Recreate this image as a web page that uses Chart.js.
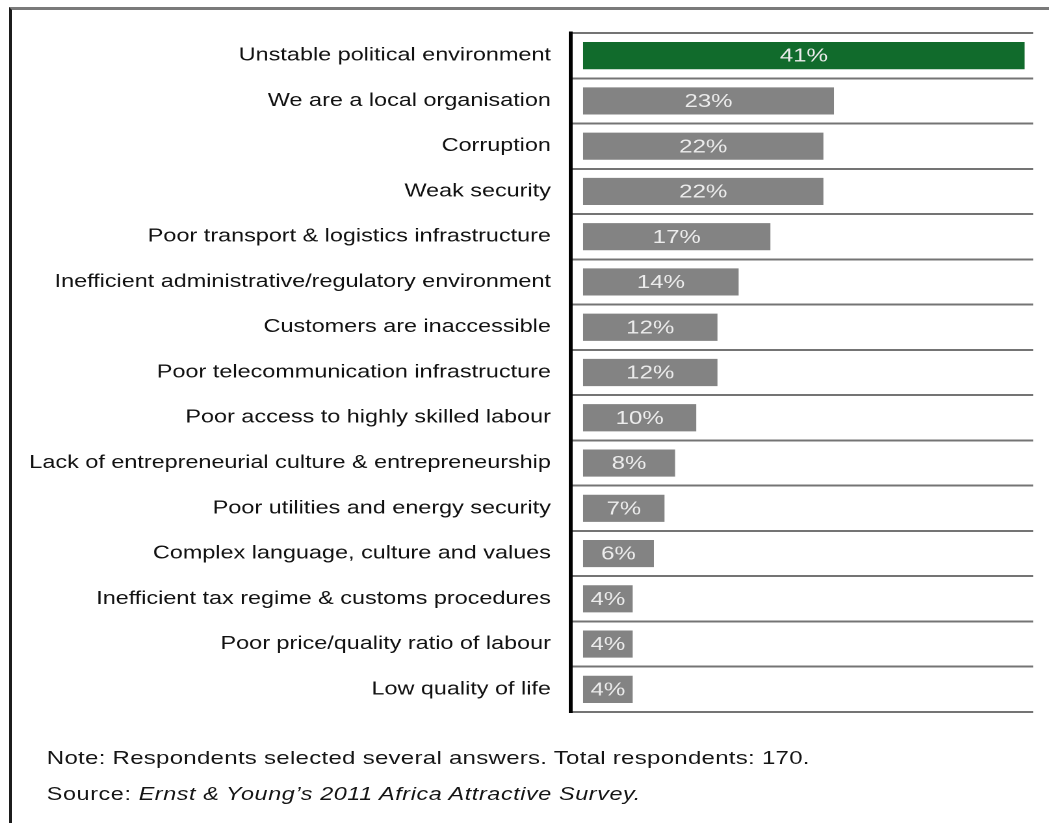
<!DOCTYPE html>
<html><head><meta charset="utf-8">
<script src="https://cdn.jsdelivr.net/npm/chart.js@4.4.1/dist/chart.umd.min.js"></script>
<style>
html,body{margin:0;padding:0;background:#fff;width:1049px;height:823px;overflow:hidden;}
#frame{position:absolute;left:9px;top:7px;width:1040px;height:816px;border-top:3px solid #7a7a7a;border-left:3px solid #1c1c1c;box-sizing:border-box;}
#wrap{position:absolute;left:0;top:0;width:807px;height:823px;transform:scaleX(1.3);transform-origin:0 0;}
#chartBox{position:absolute;left:0;top:0;width:807px;height:823px;}
.note{position:absolute;left:36px;font-family:'Liberation Sans',Arial,sans-serif;color:#151515;white-space:nowrap;}
</style></head>
<body>
<div id="frame"></div>
<div id="wrap">
  <div id="chartBox"><canvas id="c"></canvas></div>
  <div class="note" id="note" style="top:748.6px;font-size:18.5px;line-height:18px;letter-spacing:0.2px;">Note: Respondents selected several answers. Total respondents: 170.</div>
  <div class="note" id="source" style="top:785px;font-size:18px;line-height:18px;letter-spacing:0.45px;">Source: <i>Ernst &amp; Young’s 2011 Africa Attractive Survey.</i></div>
</div>
<script>
const categories = [
  'Unstable political environment',
  'We are a local organisation',
  'Corruption',
  'Weak security',
  'Poor transport & logistics infrastructure',
  'Inefficient administrative/regulatory environment',
  'Customers are inaccessible',
  'Poor telecommunication infrastructure',
  'Poor access to highly skilled labour',
  'Lack of entrepreneurial culture & entrepreneurship',
  'Poor utilities and energy security',
  'Complex language, culture and values',
  'Inefficient tax regime & customs procedures',
  'Poor price/quality ratio of labour',
  'Low quality of life'
];
const values = [41, 23, 22, 22, 17, 14, 12, 12, 10, 8, 7, 6, 4, 4, 4];
const valueSuffix = '%';
const HIGHLIGHT_INDEX = 0;

const FONT = '"Liberation Sans", Arial, sans-serif';

const barLabels = {
  id: 'barLabels',
  afterDatasetsDraw(chart) {
    const ctx = chart.ctx;
    const meta = chart.getDatasetMeta(0);
    ctx.save();
    ctx.font = '18.5px ' + FONT;
    ctx.fillStyle = '#ececec';
    ctx.textAlign = 'center';
    ctx.textBaseline = 'middle';
    meta.data.forEach((bar, i) => {
      const p = bar.getProps(['x', 'y', 'base'], true);
      ctx.fillText(values[i] + valueSuffix, (p.x + p.base) / 2, p.y + 1);
    });
    ctx.restore();
  }
};

new Chart(document.getElementById('c'), {
  type: 'bar',
  data: {
    labels: categories,
    datasets: [{
      data: values,
      base: -0.69,
      backgroundColor: c => c.dataIndex === HIGHLIGHT_INDEX ? '#116b2c' : '#838383',
      barPercentage: 0.6,
      categoryPercentage: 1,
      borderWidth: 0
    }]
  },
  options: {
    indexAxis: 'y',
    responsive: true,
    maintainAspectRatio: false,
    animation: false,
    devicePixelRatio: 2,
    layout: { padding: { left: 0, top: 33, right: 12.3, bottom: 111 } },
    plugins: { legend: { display: false }, tooltip: { enabled: false } },
    scales: {
      x: { display: false, min: -1.878, max: 41.8 },
      y: {
        grid: { color: '#747474', lineWidth: 2, drawTicks: false, offset: true },
        border: { display: true, color: '#000', width: 3 },
        ticks: { font: { family: FONT, size: 18 }, color: '#111', padding: 15, autoSkip: false },
        afterFit(s) { s.width = 438.8; }
      }
    }
  },
  plugins: [barLabels]
});
</script>
</body></html>
